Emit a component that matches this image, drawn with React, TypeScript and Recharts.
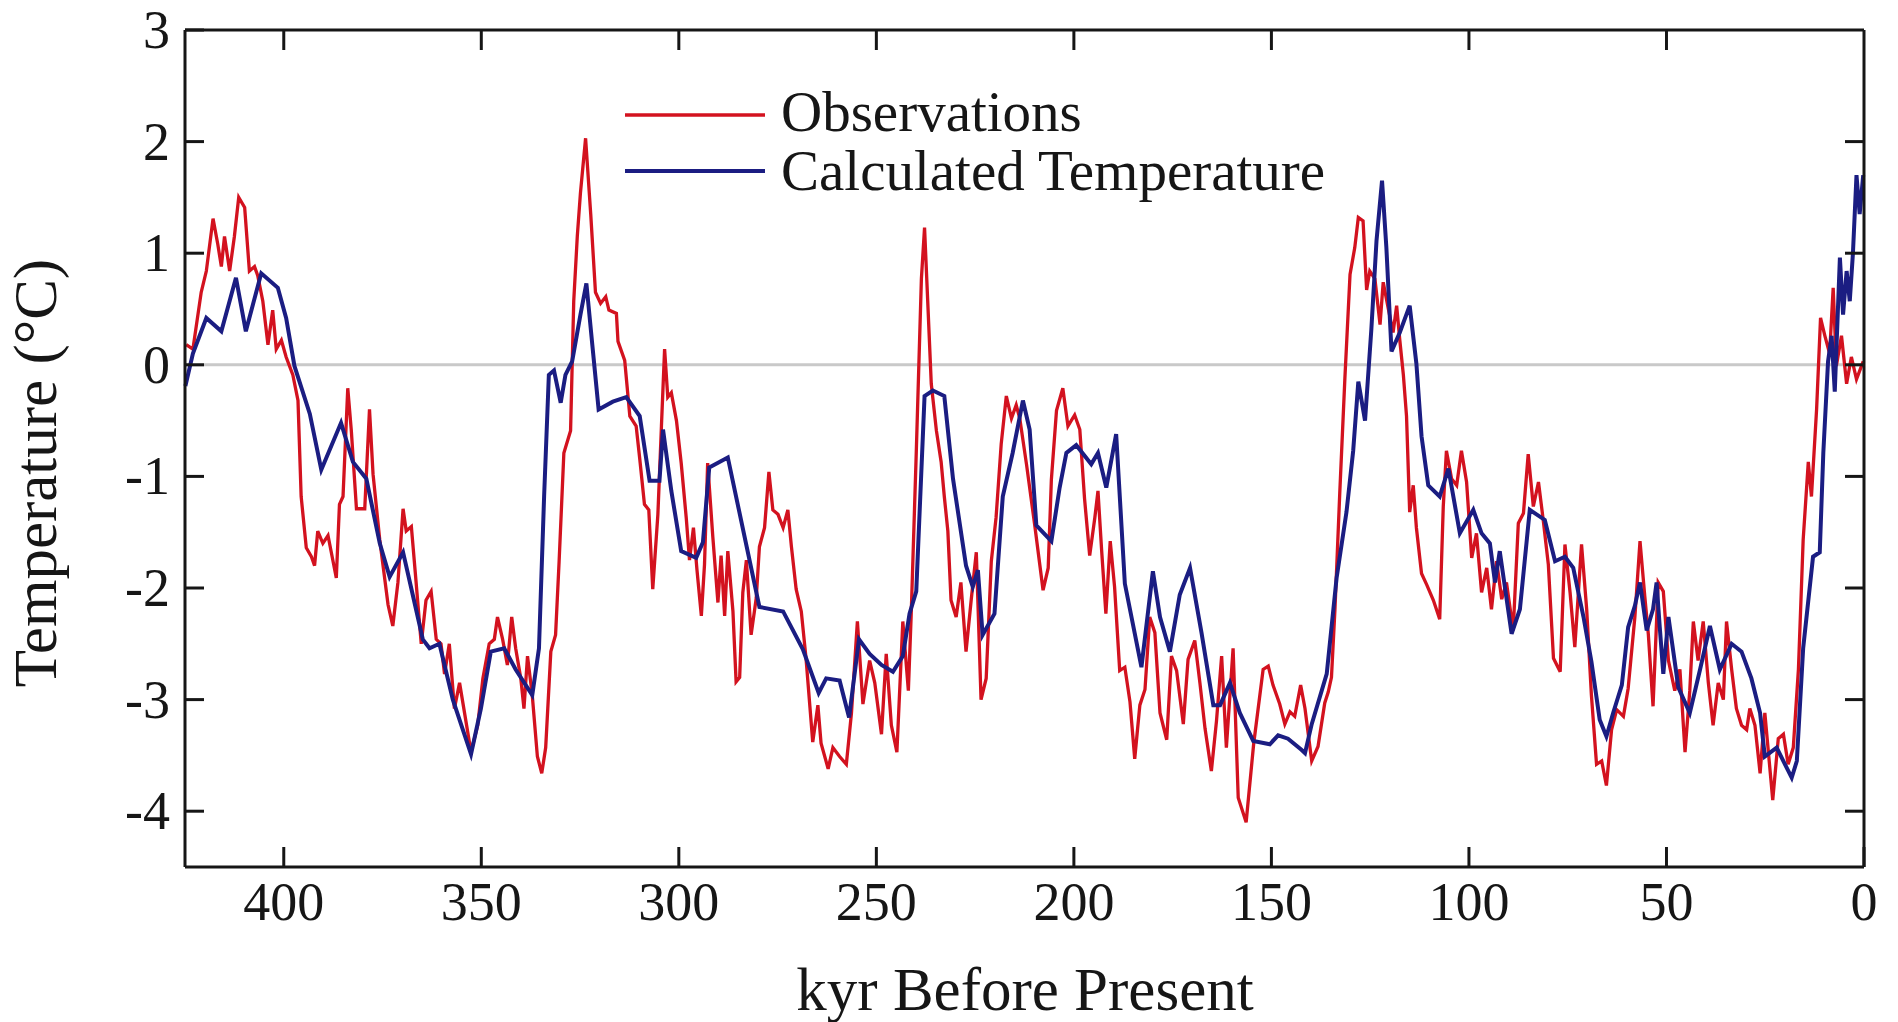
import React from "react";
import { LineChart, Line, XAxis, YAxis, ReferenceLine, Legend } from "recharts";

const FONT = '"Liberation Serif", "Times New Roman", Times, serif';
const INK = "#161616";
const RED = "#d3121f";
const BLUE = "#1b1d82";

// tick values (kyr before present / deg C)
const xTicks = [400, 350, 300, 250, 200, 150, 100, 50, 0];
const topTicks = [400, 350, 300, 250, 200, 150, 100, 50];
const yTicks = [3, 2, 1, 0, -1, -2, -3, -4];
const rightTicks = [2, 1, 0, -1, -2, -3, -4];

// [kyr BP, temperature anomaly]
const observations: [number, number][] = [
  [424.7, 0.18], [423.0, 0.14], [420.9, 0.65], [419.6, 0.84], [417.9, 1.31], [416.7, 1.08],
  [415.8, 0.88], [415.0, 1.15], [413.7, 0.84], [412.5, 1.15], [411.4, 1.5], [409.9, 1.41],
  [408.7, 0.84], [407.4, 0.88], [406.6, 0.8], [405.3, 0.57], [404.0, 0.18], [402.8, 0.49],
  [401.9, 0.14], [400.6, 0.22], [399.4, 0.07], [397.7, -0.09], [396.4, -0.32], [395.6, -1.18],
  [394.3, -1.64], [393.0, -1.72], [392.2, -1.8], [391.4, -1.49], [390.1, -1.6], [388.8, -1.53],
  [386.7, -1.91], [385.9, -1.25], [385.0, -1.18], [383.8, -0.21], [382.9, -0.59], [381.6, -1.29],
  [379.5, -1.29], [378.3, -0.4], [377.4, -0.98], [375.7, -1.57], [373.6, -2.15], [372.4, -2.34],
  [371.1, -1.95], [369.8, -1.29], [369.0, -1.49], [367.7, -1.45], [366.5, -1.95], [365.2, -2.5],
  [364.0, -2.11], [362.7, -2.03], [361.4, -2.46], [360.2, -2.5], [359.3, -2.77], [358.1, -2.5],
  [356.8, -3.08], [355.5, -2.85], [352.6, -3.47], [350.9, -3.23], [349.6, -2.81], [348.0, -2.5],
  [346.7, -2.46], [345.9, -2.26], [344.6, -2.46], [343.4, -2.69], [342.3, -2.26], [341.3, -2.54],
  [340.0, -2.81], [339.2, -3.08], [338.3, -2.61], [337.1, -2.96], [335.8, -3.51], [334.7, -3.66],
  [333.7, -3.43], [332.4, -2.57], [331.2, -2.42], [330.3, -1.76], [329.1, -0.79], [327.4, -0.59],
  [326.6, 0.57], [325.7, 1.15], [324.9, 1.54], [323.6, 2.03], [322.3, 1.35], [321.1, 0.65],
  [319.8, 0.55], [318.5, 0.61], [317.7, 0.49], [315.8, 0.46], [315.4, 0.21], [313.7, 0.04],
  [312.4, -0.46], [310.8, -0.55], [309.9, -0.84], [308.7, -1.25], [307.6, -1.3], [306.6, -2.01],
  [305.3, -1.34], [304.4, -0.55], [303.6, 0.14], [302.8, -0.29], [301.9, -0.25], [300.6, -0.5],
  [299.4, -0.88], [298.1, -1.38], [297.3, -1.75], [296.3, -1.46], [295.4, -1.84], [294.3, -2.25],
  [293.5, -1.79], [292.7, -0.88], [291.4, -1.54], [290.1, -2.13], [289.3, -1.71], [288.4, -2.25],
  [287.6, -1.67], [286.3, -2.21], [285.5, -2.84], [284.6, -2.8], [283.8, -2.04], [282.9, -1.75],
  [281.7, -2.42], [280.4, -2.09], [279.6, -1.63], [278.3, -1.46], [277.2, -0.96], [276.2, -1.3],
  [274.9, -1.34], [273.6, -1.46], [272.4, -1.3], [271.5, -1.63], [270.3, -2.01], [269.0, -2.21],
  [267.8, -2.63], [266.1, -3.38], [264.8, -3.05], [264.0, -3.39], [262.2, -3.62], [261.0, -3.43],
  [259.3, -3.51], [257.6, -3.58], [256.3, -3.12], [254.8, -2.3], [253.4, -3.04], [251.7, -2.65],
  [250.4, -2.85], [248.7, -3.31], [247.5, -2.59], [246.2, -3.23], [244.8, -3.47], [243.3, -2.3],
  [241.9, -2.92], [241.2, -2.26], [239.9, -0.79], [238.6, 0.77], [237.8, 1.23], [237.0, 0.57],
  [236.1, -0.17], [234.8, -0.59], [233.6, -0.87], [232.8, -1.18], [231.9, -1.49], [231.1, -2.11],
  [229.8, -2.26], [228.6, -1.95], [227.3, -2.57], [226.0, -2.11], [224.7, -1.68], [223.5, -3.0],
  [222.2, -2.81], [220.9, -1.76], [219.7, -1.37], [218.4, -0.71], [217.1, -0.28], [215.8, -0.48],
  [214.6, -0.36], [213.7, -0.48], [212.0, -0.89], [209.9, -1.44], [207.8, -2.02], [206.5, -1.82],
  [205.7, -1.03], [204.4, -0.41], [202.8, -0.21], [201.5, -0.55], [199.8, -0.45], [198.5, -0.58],
  [197.3, -1.2], [196.0, -1.71], [194.7, -1.37], [193.9, -1.13], [193.0, -1.65], [191.9, -2.23],
  [190.8, -1.58], [189.7, -1.99], [188.4, -2.74], [187.1, -2.71], [185.8, -3.02], [184.6, -3.53],
  [183.3, -3.05], [182.0, -2.91], [180.8, -2.26], [179.5, -2.4], [178.2, -3.12], [176.5, -3.36],
  [175.3, -2.61], [174.0, -2.74], [172.3, -3.22], [171.1, -2.64], [169.4, -2.47], [168.1, -2.85],
  [166.8, -3.26], [165.2, -3.64], [163.9, -3.19], [162.6, -2.61], [161.4, -3.43], [159.7, -2.54],
  [158.4, -3.88], [156.4, -4.1], [154.5, -3.4], [152.1, -2.73], [150.8, -2.7], [149.6, -2.87],
  [147.9, -3.04], [146.6, -3.22], [145.3, -3.11], [144.1, -3.15], [142.6, -2.87], [141.5, -3.08],
  [139.8, -3.55], [138.2, -3.42], [136.5, -3.03], [135.6, -2.93], [134.8, -2.8], [133.9, -2.18],
  [132.7, -1.15], [131.4, -0.12], [130.1, 0.81], [128.9, 1.05], [128.0, 1.32], [126.8, 1.29],
  [125.9, 0.67], [125.1, 0.84], [123.8, 0.77], [122.5, 0.36], [121.7, 0.74], [120.4, 0.5],
  [119.2, 0.29], [118.3, 0.53], [117.5, 0.22], [116.6, -0.09], [115.8, -0.46], [115.0, -1.32],
  [114.1, -1.08], [113.3, -1.46], [112.0, -1.87], [110.7, -1.97], [109.0, -2.11], [107.4, -2.28],
  [106.5, -1.27], [105.7, -0.77], [104.4, -1.02], [103.1, -1.08], [101.9, -0.77], [100.6, -1.05],
  [99.3, -1.73], [98.1, -1.51], [96.8, -2.04], [95.5, -1.82], [94.3, -2.19], [93.0, -1.76],
  [91.7, -2.1], [90.5, -1.95], [88.8, -2.38], [87.5, -1.42], [86.2, -1.33], [85.0, -0.8],
  [83.7, -1.27], [82.4, -1.05], [81.2, -1.39], [79.9, -1.79], [78.6, -2.63], [76.9, -2.75],
  [75.7, -1.61], [74.4, -2.04], [73.2, -2.53], [71.5, -1.61], [70.2, -2.19], [69.0, -2.96],
  [67.7, -3.58], [66.4, -3.55], [65.2, -3.77], [63.9, -3.27], [62.6, -3.09], [60.9, -3.15],
  [59.7, -2.9], [58.0, -2.26], [56.7, -1.58], [55.5, -2.07], [54.6, -2.41], [53.4, -3.06],
  [52.1, -1.95], [50.8, -2.03], [49.5, -2.65], [47.9, -2.92], [46.6, -2.73], [45.3, -3.47],
  [44.1, -2.92], [43.2, -2.3], [42.0, -2.65], [40.7, -2.3], [39.4, -2.85], [38.2, -3.23],
  [36.9, -2.85], [35.6, -3.0], [34.8, -2.3], [33.5, -2.73], [32.3, -3.08], [31.0, -3.23],
  [29.7, -3.27], [28.9, -3.08], [27.6, -3.23], [26.3, -3.66], [25.1, -3.12], [23.1, -3.9],
  [21.7, -3.35], [20.4, -3.31], [19.2, -3.58], [17.9, -3.43], [16.6, -2.73], [15.4, -1.57],
  [14.1, -0.87], [13.3, -1.18], [12.0, -0.4], [11.0, 0.42], [9.9, 0.26], [8.7, 0.1],
  [7.8, 0.69], [7.0, -0.01], [5.7, 0.26], [4.4, -0.17], [3.2, 0.07], [1.9, -0.13], [0.2, 0.03],
];

const calculated: [number, number][] = [
  [424.9, -0.19], [423.0, 0.1], [419.6, 0.42], [415.8, 0.3], [412.1, 0.78], [409.6, 0.3],
  [405.7, 0.82], [401.5, 0.69], [399.4, 0.42], [397.3, -0.01], [393.4, -0.44], [390.5, -0.94],
  [385.5, -0.52], [382.5, -0.87], [379.1, -1.02], [375.7, -1.6], [373.2, -1.9], [369.8, -1.68],
  [367.3, -2.07], [364.8, -2.46], [363.1, -2.54], [360.6, -2.5], [357.2, -3.0], [352.6, -3.49],
  [350.1, -3.08], [347.6, -2.57], [344.2, -2.54], [341.3, -2.73], [337.1, -2.96], [335.4, -2.54],
  [334.1, -1.18], [332.9, -0.09], [331.6, -0.05], [329.9, -0.34], [328.7, -0.09], [327.0, 0.03],
  [324.9, 0.45], [323.4, 0.73], [321.9, 0.18], [320.3, -0.4], [316.7, -0.33], [313.3, -0.29],
  [309.9, -0.46], [307.4, -1.04], [304.9, -1.04], [304.0, -0.58], [301.9, -1.13], [299.4, -1.67],
  [295.6, -1.73], [293.9, -1.59], [292.3, -0.92], [287.6, -0.83], [279.6, -2.17], [273.6, -2.21],
  [268.6, -2.55], [264.6, -2.94], [262.7, -2.81], [259.3, -2.83], [256.9, -3.16], [254.4, -2.46],
  [251.7, -2.59], [248.7, -2.69], [245.8, -2.75], [243.3, -2.61], [241.6, -2.23], [239.9, -2.03],
  [237.8, -0.28], [235.7, -0.23], [232.8, -0.28], [230.6, -1.02], [227.3, -1.8], [225.6, -1.99],
  [224.3, -1.84], [223.1, -2.42], [220.1, -2.23], [218.0, -1.18], [215.5, -0.79], [212.9, -0.32],
  [211.2, -0.58], [209.5, -1.44], [205.7, -1.58], [203.6, -1.1], [201.9, -0.79], [199.4, -0.72],
  [195.6, -0.89], [193.9, -0.79], [191.8, -1.1], [189.3, -0.62], [187.1, -1.96], [182.9, -2.71],
  [180.0, -1.85], [178.2, -2.26], [175.7, -2.57], [173.2, -2.06], [170.6, -1.82], [167.7, -2.4],
  [164.7, -3.05], [163.0, -3.05], [160.5, -2.85], [158.0, -3.12], [154.6, -3.37], [150.4, -3.4],
  [148.3, -3.32], [145.8, -3.35], [142.4, -3.45], [141.5, -3.48], [139.8, -3.22], [136.0, -2.77],
  [133.5, -1.91], [131.0, -1.32], [129.3, -0.77], [128.0, -0.15], [126.3, -0.5], [124.7, 0.32],
  [123.4, 1.11], [122.0, 1.65], [120.9, 1.05], [119.6, 0.12], [117.5, 0.29], [115.0, 0.53],
  [113.3, 0.01], [112.0, -0.64], [110.3, -1.08], [107.4, -1.18], [105.2, -0.93], [102.3, -1.51],
  [98.9, -1.3], [96.8, -1.51], [94.7, -1.6], [93.4, -1.95], [92.2, -1.67], [89.2, -2.41],
  [87.1, -2.19], [84.6, -1.3], [80.8, -1.39], [78.2, -1.76], [75.7, -1.72], [73.6, -1.82],
  [71.0, -2.26], [69.0, -2.66], [66.9, -3.18], [65.2, -3.33], [63.5, -3.12], [61.3, -2.87],
  [59.7, -2.35], [58.0, -2.16], [56.7, -1.95], [55.0, -2.38], [53.4, -2.19], [52.5, -1.95],
  [51.7, -2.35], [50.8, -2.77], [49.5, -2.26], [47.0, -2.89], [44.1, -3.12], [41.5, -2.73],
  [39.0, -2.34], [36.5, -2.73], [33.5, -2.5], [31.0, -2.57], [28.5, -2.81], [26.3, -3.12],
  [25.1, -3.51], [22.1, -3.43], [20.0, -3.58], [18.3, -3.7], [17.0, -3.55], [15.4, -2.54],
  [12.9, -1.72], [11.2, -1.68], [10.3, -0.79], [9.1, 0.03], [8.2, 0.26], [7.4, -0.24],
  [6.1, 0.96], [5.3, 0.45], [4.4, 0.84], [3.6, 0.57], [2.8, 1.0], [1.9, 1.7], [1.1, 1.35], [0.2, 1.7],
];

const obsData = observations.map(([kyr, t]) => ({ kyr, t }));
const calcData = calculated.map(([kyr, t]) => ({ kyr, t }));

const textProps = { fill: INK, fontFamily: FONT };

function BottomTick(props: any) {
  const { x, y, payload } = props;
  return (
    <g>
      <line x1={x} y1={y} x2={x} y2={y - 20} stroke={INK} strokeWidth={3} />
      <text x={x} y={y + 53} textAnchor="middle" fontSize={54} {...textProps}>
        {payload.value}
      </text>
    </g>
  );
}

function TopTick(props: any) {
  const { x, y } = props;
  return <line x1={x} y1={y} x2={x} y2={y + 20} stroke={INK} strokeWidth={3} />;
}

function LeftTick(props: any) {
  const { x, y, payload } = props;
  return (
    <g>
      <line x1={x} y1={y} x2={x + 19} y2={y} stroke={INK} strokeWidth={3} />
      <text x={x - 15} y={y + 18} textAnchor="end" fontSize={54} {...textProps}>
        {payload.value}
      </text>
    </g>
  );
}

function RightTick(props: any) {
  const { x, y } = props;
  return <line x1={x} y1={y} x2={x - 19} y2={y} stroke={INK} strokeWidth={3} />;
}

function XTitle() {
  return (
    <text x={1025} y={1010} textAnchor="middle" fontSize={61} {...textProps}>
      kyr Before Present
    </text>
  );
}

function YTitle() {
  return (
    <text x={56} y={473} transform="rotate(-90 56 473)" textAnchor="middle" fontSize={61} {...textProps}>
      Temperature (°C)
    </text>
  );
}

function LegendBox() {
  return (
    <svg width={820} height={130} style={{ display: "block" }}>
      <line x1={25} y1={35} x2={165} y2={35} stroke={RED} strokeWidth={3.5} />
      <text x={181} y={51} fontSize={57} {...textProps}>Observations</text>
      <line x1={25} y1={91} x2={165} y2={91} stroke={BLUE} strokeWidth={4} />
      <text x={181} y={110} fontSize={57} {...textProps}>Calculated Temperature</text>
    </svg>
  );
}

const axisLine = { stroke: INK, strokeWidth: 3 };

export default function App() {
  return (
    <div style={{ position: "absolute", left: 0, top: 0, width: 1898, height: 1022, background: "#fff" }}>
      <LineChart width={1898} height={1022} margin={{ top: 29, right: 33, bottom: 95, left: 95 }}>
        <XAxis
          dataKey="kyr"
          type="number"
          domain={[0, 425]}
          reversed
          ticks={xTicks}
          interval={0}
          height={60}
          tickLine={false}
          tickSize={0}
          tickMargin={0}
          axisLine={axisLine}
          tick={<BottomTick />}
          label={<XTitle />}
        />
        <XAxis
          xAxisId="top"
          dataKey="kyr"
          orientation="top"
          type="number"
          domain={[0, 425]}
          allowDataOverflow
          reversed
          ticks={topTicks}
          interval={0}
          height={1}
          tickLine={false}
          tickSize={0}
          tickMargin={0}
          axisLine={axisLine}
          tick={<TopTick />}
        />
        <YAxis
          type="number"
          domain={[-4.5, 3]}
          ticks={yTicks}
          interval={0}
          width={90}
          tickLine={false}
          tickSize={0}
          tickMargin={0}
          axisLine={axisLine}
          tick={<LeftTick />}
          label={<YTitle />}
        />
        <YAxis
          yAxisId="right"
          orientation="right"
          type="number"
          domain={[-4.5, 3]}
          allowDataOverflow
          ticks={rightTicks}
          interval={0}
          width={1}
          tickLine={false}
          tickSize={0}
          tickMargin={0}
          axisLine={axisLine}
          tick={<RightTick />}
        />
        <ReferenceLine y={0} stroke="#c9c9c9" strokeWidth={3} />
        <Legend
          layout="horizontal"
          verticalAlign="middle"
          align="center"
          content={<LegendBox />}
          wrapperStyle={{ left: 600, top: 80, width: 820, height: 130 }}
        />
        {/* invisible copy so the frame axes (top/right) get a scale */}
        <Line
          data={calcData}
          xAxisId="top"
          yAxisId="right"
          dataKey="t"
          stroke="none"
          dot={false}
          activeDot={false}
          legendType="none"
          isAnimationActive={false}
        />
        <Line
          data={obsData}
          dataKey="t"
          name="Observations"
          type="linear"
          stroke={RED}
          strokeWidth={3.3}
          dot={false}
          isAnimationActive={false}
        />
        <Line
          data={calcData}
          dataKey="t"
          name="Calculated Temperature"
          type="linear"
          stroke={BLUE}
          strokeWidth={4}
          dot={false}
          isAnimationActive={false}
        />
      </LineChart>
    </div>
  );
}
